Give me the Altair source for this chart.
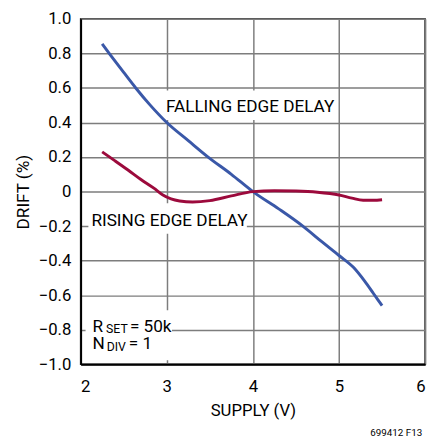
import altair as alt
import pandas as pd

# ---- data ----
falling_x = [2.25, 2.34, 2.5, 2.64, 2.8, 3.0, 3.25, 3.48, 3.75, 4.0, 4.3, 4.58, 4.8, 5.0, 5.17, 5.3, 5.4, 5.5]
falling_y = [0.855, 0.795, 0.69, 0.60, 0.505, 0.40, 0.295, 0.20, 0.10, 0.0, -0.10, -0.20, -0.29, -0.37, -0.44, -0.52, -0.59, -0.66]
rising_x = [2.25, 2.4, 2.55, 2.7, 2.85, 2.95, 3.05, 3.15, 3.3, 3.5, 3.75, 4.0, 4.25, 4.5, 4.75, 5.0, 5.15, 5.28, 5.4, 5.5]
rising_y = [0.23, 0.178, 0.125, 0.07, 0.02, -0.018, -0.042, -0.054, -0.06, -0.052, -0.025, 0.0, 0.005, 0.003, -0.004, -0.02, -0.038, -0.05, -0.05, -0.047]
x_ticks = [2, 3, 4, 5, 6]
y_ticks = [-1.0, -0.8, -0.6, -0.4, -0.2, 0.0, 0.2, 0.4, 0.6, 0.8, 1.0]
series_names = ["FALLING EDGE DELAY", "RISING EDGE DELAY"]
footnote = "699412 F13"

curves = pd.DataFrame({
    "supply": falling_x + rising_x,
    "drift": falling_y + rising_y,
    "series": [series_names[0]] * len(falling_x) + [series_names[1]] * len(rising_x),
})

FONT = "Roboto"
BLUE = "#3a58a8"
RED = "#9c0a3c"
GRID = "#7d7d7d"

xs = alt.Scale(domain=[2, 6], nice=False, zero=False)
ys = alt.Scale(domain=[-1, 1], nice=False, zero=False)

X_AX = alt.Axis(values=x_ticks, title="SUPPLY (V)", format="d", ticks=False,
                labelPadding=15, labelFont=FONT, labelFontSize=17, labelColor="black",
                titleFont=FONT, titleFontSize=17, titleFontWeight="normal", titleColor="black",
                titleY=52, titleBaseline="alphabetic",
                domainColor="black", domainWidth=2, grid=True, gridColor=GRID, gridWidth=1.5)
Y_AX = alt.Axis(values=y_ticks, title="DRIFT (%)", ticks=False,
                labelExpr="datum.value == 0 ? '0' : replace(format(datum.value, '.1f'), '-', '–')",
                labelPadding=10, labelFont=FONT, labelFontSize=17, labelColor="black",
                titleFont=FONT, titleFontSize=17.5, titleFontWeight="normal", titleColor="black",
                titleX=-58, titleY=176, titleAngle=270, titleBaseline="middle", titleAlign="center",
                domainColor="black", domainWidth=2, grid=True, gridColor=GRID, gridWidth=1.5)

# white label backgrounds that interrupt the grid
boxes = pd.DataFrame({
    "supply": [2.93, 2.09, 2.057],
    "supply2": [4.92, 3.93, 3.06],
    "drift": [0.415, -0.244, -0.977],
    "drift2": [0.585, -0.068, -0.6875],
})
rects = alt.Chart(boxes).mark_rect(color="white").encode(
    x=alt.X("supply:Q", scale=xs, axis=X_AX), x2="supply2:Q",
    y=alt.Y("drift:Q", scale=ys, axis=Y_AX), y2="drift2:Q",
)

lines = alt.Chart(curves).mark_line(strokeWidth=3, interpolate="monotone").encode(
    x=alt.X("supply:Q", scale=xs, axis=X_AX),
    y=alt.Y("drift:Q", scale=ys, axis=Y_AX),
    color=alt.Color("series:N", scale=alt.Scale(domain=series_names, range=[BLUE, RED]), legend=None),
)

big_text = pd.DataFrame({
    "supply": [2.99, 2.125, 2.137, 2.572, 2.137, 2.56],
    "drift": [0.46, -0.202, -0.810, -0.810, -0.909, -0.909],
    "t": series_names + ["R", "= 50k", "N", "= 1"],
})
t1 = alt.Chart(big_text).mark_text(font=FONT, fontSize=17.5, align="left", baseline="alphabetic", color="black").encode(
    x=alt.X("supply:Q", scale=xs, axis=X_AX), y=alt.Y("drift:Q", scale=ys, axis=Y_AX), text="t:N")

sub_parts = pd.DataFrame({
    "supply": [2.295, 2.302],
    "drift": [-0.821, -0.923],
    "t": ["SET", "DIV"],
})
t3 = alt.Chart(sub_parts).mark_text(font=FONT, fontSize=12.5, align="left", baseline="alphabetic", color="black").encode(
    x=alt.X("supply:Q", scale=xs, axis=X_AX), y=alt.Y("drift:Q", scale=ys, axis=Y_AX), text="t:N")

foot = alt.Chart(pd.DataFrame({"t": [footnote]})).mark_text(
    font=FONT, fontSize=10, align="right", baseline="middle", color="black").encode(
    x=alt.value(348), y=alt.value(422), text="t:N")

chart = alt.layer(rects, lines, t1, t3, foot).properties(
    width=351, height=352,
    autosize=alt.AutoSizeParams(type="none"),
    padding={"left": 74, "top": 7, "right": 7, "bottom": 72},
    background="white",
).configure_view(stroke="black", strokeWidth=1.5)

chart.save("out.html", embed_options={"renderer": "svg", "actions": False})
